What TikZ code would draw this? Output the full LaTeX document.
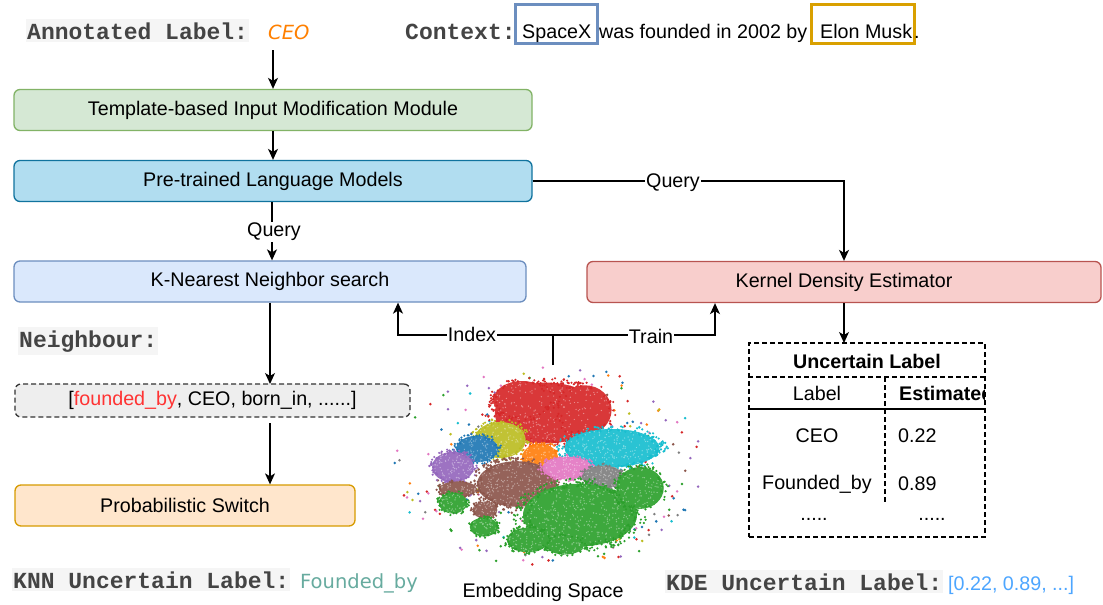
\documentclass[tikz,border=0pt]{standalone}
\usepackage{fontspec}
\setmainfont{Liberation Sans}
\newfontfamily\monof{Liberation Mono}
\newfontfamily\comicf{DejaVu Sans}
\usetikzlibrary{arrows.meta,calc}
\definecolor{gfill}{HTML}{D5E8D4}\definecolor{gdraw}{HTML}{82B366}
\definecolor{bfill}{HTML}{B1DDF0}\definecolor{bdraw}{HTML}{10739E}
\definecolor{kfill}{HTML}{DAE8FC}\definecolor{kdraw}{HTML}{6C8EBF}
\definecolor{rfill}{HTML}{F8CECC}\definecolor{rdraw}{HTML}{B85450}
\definecolor{ofill}{HTML}{FFE6CC}\definecolor{odraw}{HTML}{D79B00}
\definecolor{nfill}{HTML}{EEEEEE}\definecolor{ndraw}{HTML}{333333}
\definecolor{monoc}{HTML}{444444}\definecolor{monobg}{HTML}{F5F5F5}
\definecolor{ceoc}{HTML}{FF8000}\definecolor{tealc}{HTML}{67AB9F}
\definecolor{listc}{HTML}{4DA6FF}\definecolor{redt}{HTML}{FF3333}
\definecolor{sxc}{HTML}{6C8EBF}\definecolor{elc}{HTML}{D9A000}
\definecolor{tred}{HTML}{D62728}\definecolor{tblue}{HTML}{1F77B4}
\definecolor{torange}{HTML}{FF7F0E}\definecolor{tgreen}{HTML}{2CA02C}
\definecolor{tpurple}{HTML}{9467BD}\definecolor{tbrown}{HTML}{8C564B}
\definecolor{tpink}{HTML}{E377C2}\definecolor{tgray}{HTML}{7F7F7F}
\definecolor{tolive}{HTML}{BCBD22}\definecolor{tcyan}{HTML}{17BECF}
\newcommand\fsz{\fontsize{19.7}{22}\selectfont}
\newcommand\msz{\monof\bfseries\fontsize{23}{26}\selectfont\color{monoc}}
\newcommand\clust[6]{%
  \fill[#5!92!white] (#1,#2) ellipse [x radius={#3*0.95pt}, y radius={#4*0.95pt}];
  \foreach \k in {1,...,#6}{%
    \pgfmathsetmacro\aa{360*rnd}\pgfmathsetmacro\rr{0.9*sqrt(rnd)}%
    \fill[#5!55!white] ({#1+#3*\rr*cos(\aa)},{#2+#4*\rr*sin(\aa)}) circle [radius=0.7pt];
    \pgfmathsetmacro\aa{360*rnd}\pgfmathsetmacro\rr{0.85+0.27*rnd}%
    \fill[#5] ({#1+#3*\rr*cos(\aa)},{#2+#4*\rr*sin(\aa)}) circle [radius=1.2pt];}%
}
\newcommand\outl[2]{%
  \foreach \k in {1,...,#2}{%
    \pgfmathsetmacro\aa{360*rnd}\pgfmathsetmacro\rr{0.5+0.52*rnd}%
    \fill[#1] ({550+155*\rr*cos(\aa)},{467+100*\rr*sin(\aa)}) circle [radius=1.4pt];}%
}
\begin{document}
\begin{tikzpicture}[x=1pt,y=-1pt,
  box/.style={draw, rounded corners=6pt, line width=1.3pt, minimum height=41pt, font=\fsz, inner sep=0pt},
  arr/.style={-{Stealth[length=11pt,width=10pt,inset=3pt]}, line width=1.3pt},
  conn/.style={line width=1.3pt},
  lab/.style={fill=white, inner sep=1pt, font=\fsz},
  mlab/.style={fill=monobg, inner xsep=1pt, inner ysep=3pt, font=\msz, anchor=base west},
  txt/.style={font=\fsz, inner sep=0pt},
  tdash/.style={dashed, dash pattern=on 5pt off 3pt, line width=1.2pt}]
\useasboundingbox (0,0) rectangle (1103,605);
\fill[white] (0,0) rectangle (1103,605);

% ---- header texts
\node[mlab] (annot) at (26,39) {Annotated Label:};
\node[txt, anchor=base west, text=ceoc, font=\comicf\itshape\fontsize{19.5}{22}\selectfont] (ceo) at (268,39) {CEO};
\node[mlab, fill=none] (ctxlab) at (404,39) {Context:};
\node[draw=sxc, line width=3pt, minimum width=82pt, minimum height=39pt, inner sep=0pt] (sxbox) at (556,23.5) {};
\node[draw=elc, line width=3pt, minimum width=103pt, minimum height=39pt, inner sep=0pt] (elbox) at (862.5,23.5) {};
\node[txt, anchor=base west] (sx) at (522,38) {SpaceX};
\node[txt, anchor=base west] (mid) at (599,38) {was founded in 2002 by};
\node[txt, anchor=base west] (elon) at (820,38) {Elon Musk};
\node[txt, anchor=base west] (dot) at (914,38) {.};

% ---- main boxes
\node[box, fill=gfill, draw=gdraw, minimum width=518pt] (tmpl) at (273,110) {Template-based Input Modification Module};
\node[box, fill=bfill, draw=bdraw, minimum width=518pt] (plm) at (273,181) {Pre-trained Language Models};
\node[box, fill=kfill, draw=kdraw, minimum width=512pt] (knn) at (270,281.5) {K-Nearest Neighbor search};
\node[box, fill=rfill, draw=rdraw, minimum width=514pt] (kde) at (844,282) {Kernel Density Estimator};
\node[box, fill=ofill, draw=odraw, minimum width=340pt] (ps) at (185,505.5) {Probabilistic Switch};
\node[box, fill=nfill, draw=ndraw, dashed, dash pattern=on 5pt off 3pt, minimum width=395pt, minimum height=33pt] (neigh) at (212.5,400.5)
  {[\textcolor{redt}{founded\_by}, CEO, born\_in, ......]};
\node[mlab] (nlab) at (18,347) {Neighbour:};

% ---- connectors
\coordinate (a0) at (273,50);
\draw[arr] (a0) -- (a0 |- tmpl.north);
\draw[arr] (tmpl.south) -- (plm.north);
\draw[arr] (plm.south -| 272,0) -- (knn.north -| 272,0);
\node[lab] (q1) at (274,232) {Query};
\draw[arr] (plm.east) -- (844,181) -- (kde.north);
\node[lab] (q2) at (673,183) {Query};
\coordinate (tabtop) at (844,343);
\draw[arr] (kde.south) -- (tabtop);
\draw[arr] (knn.south -| 270,0) -- (270,384);
\coordinate (n2) at (270,423);
\draw[arr] (n2) -- (ps.north -| n2);

% ---- embedding space scatter
\pgfmathsetseed{7}
\outl{tpurple}{40}\outl{tblue}{35}\outl{tgreen}{30}\outl{tred}{30}\outl{torange}{25}
\outl{tpink}{30}\outl{tgray}{20}\outl{tcyan}{20}\outl{tolive}{12}\outl{tbrown}{12}
\clust{547}{413}{55}{32}{tred}{260}
\clust{522}{400}{30}{20}{tred}{60}
\clust{585}{410}{28}{26}{tred}{60}
\clust{500}{440}{27}{19}{tolive}{90}
\clust{477}{449}{22}{14}{tblue}{70}
\clust{612}{448}{50}{20}{tcyan}{180}
\clust{453}{467}{22}{16}{tpurple}{80}
\clust{540}{458}{19}{15}{torange}{60}
\clust{517}{484}{42}{24}{tbrown}{200}
\clust{567}{468}{26}{12}{tpink}{70}
\clust{603}{477}{22}{12}{tgray}{60}
\clust{458}{489}{20}{8}{tbrown}{40}
\clust{453}{503}{15}{11}{tgreen}{40}
\clust{485}{510}{13}{9}{tbrown}{30}
\clust{580}{515}{60}{33}{tgreen}{300}
\clust{640}{488}{25}{22}{tgreen}{80}
\clust{484}{527}{15}{10}{tgreen}{40}
\clust{528}{540}{22}{13}{tgreen}{60}
\clust{565}{545}{20}{10}{tgreen}{40}
\node[txt, anchor=base] (emb) at (543,597) {Embedding Space};

% ---- index / train
\coordinate (es) at (553,365);
\coordinate (ej) at (553,335);
\draw[conn] (es) -- (ej);
\draw[arr] (ej) -- (398,335) -- (knn.south -| 398,0);
\draw[arr] (ej) -- (715,335) -- (kde.south -| 715,0);
\node[lab] (ix) at (472,334) {Index};
\node[lab] (tr) at (651,336) {Train};

% ---- table
\node[tdash, draw, minimum width=236pt, minimum height=194pt, inner sep=0pt] (tab) at (867,440) {};
\draw[tdash] (tab.west |- 0,377) -- (tab.east |- 0,377);
\draw[tdash] (885,377) -- (885,502);
\draw[line width=1.2pt] (tab.west |- 0,409) -- (tab.east |- 0,409);
\node[txt, font=\fsz\bfseries] (th) at (867,361) {Uncertain Label};
\node[txt] (hl) at (817,393) {Label};
\begin{scope}
\clip (886,378) rectangle (984,408);
\node[txt, anchor=west, font=\fsz\bfseries] (he) at (899,393) {Estimated};
\end{scope}
\node[txt] (r1a) at (817,436) {CEO};
\node[txt, anchor=west] (r1b) at (898,436) {0.22};
\node[txt] (r2a) at (817,484) {Founded\_by};
\node[txt, anchor=west] (r2b) at (898,484) {0.89};
\node[txt] (r3a) at (814,519) {.....};
\node[txt] (r3b) at (932,519) {.....};

% ---- bottom labels
\node[mlab] (knnl) at (12,588) {KNN Uncertain Label:};
\node[txt, anchor=base west, text=tealc, font=\comicf\fontsize{19.5}{22}\selectfont] (fb) at (300,588) {Founded\_by};
\node[mlab] (kdel) at (665,590) {KDE Uncertain Label:};
\node[txt, anchor=base west, text=listc] (kl) at (948,590) {[0.22, 0.89, ...]};
\end{tikzpicture}
\end{document}
